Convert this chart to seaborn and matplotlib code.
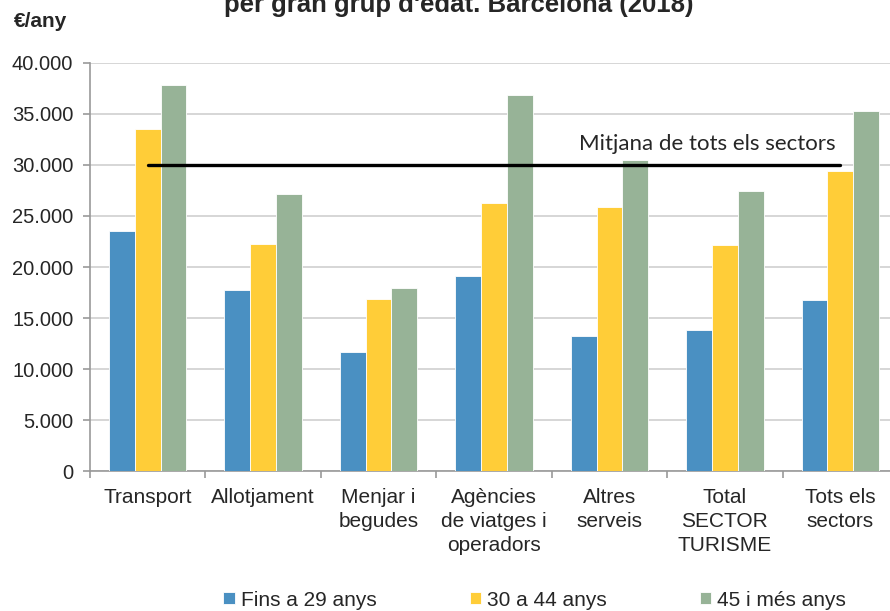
#importing libraries
import pandas as pd
import seaborn as sns
import matplotlib.pyplot as plt
from matplotlib.ticker import FuncFormatter, FixedLocator

#data
sectors = ['Transport', 'Allotjament', 'Menjar i\nbegudes', 'Agències\nde viatges i\noperadors',
           'Altres\nserveis', 'Total\nSECTOR\nTURISME', 'Tots els\nsectors']
groups = ['Fins a 29 anys', '30 a 44 anys', '45 i més anys']
fins29 = [23500, 17700, 11700, 19150, 13200, 13850, 16800]
de30a44 = [33500, 22250, 16900, 26250, 25900, 22150, 29400]
mes45 = [37800, 27200, 17900, 36900, 30500, 27400, 35300]
mitjana = 30000
colors = ['#4a90c2', '#ffcd38', '#97b397']

#long table for seaborn
rows = []
for g, vals in zip(groups, [fins29, de30a44, mes45]):
    for s, v in zip(sectors, vals):
        rows.append({'sector': s, 'grup': g, 'valor': v})
df = pd.DataFrame(rows)

sns.set_style('white')
plt.rcParams['font.family'] = ['Liberation Sans', 'DejaVu Sans']

fig = plt.figure(figsize=(8.9, 6.11), dpi=100)
ax = fig.add_axes([90 / 890, 0.229, 808 / 890, 0.668])

sns.barplot(data=df, x='sector', y='valor', hue='grup', order=sectors, hue_order=groups,
            palette=colors, width=0.67, gap=0, edgecolor='white', linewidth=0.6,
            saturation=1, ax=ax, zorder=3, legend=True)

#mean line across all sectors
ax.plot([0, len(sectors) - 1], [mitjana, mitjana], color='black', lw=2.4, zorder=4,
        solid_capstyle='round')
ax.text(5.96, mitjana + 1050, 'Mitjana de tots els sectors', ha='right', va='bottom',
        fontsize=16, family=['Lato', 'DejaVu Sans'], zorder=5)

#axes styling
ax.set_ylim(0, 40000)
ax.set_xlim(-0.5, len(sectors) - 0.5)
ax.set_yticks(range(0, 40001, 5000))
ax.yaxis.set_major_formatter(FuncFormatter(lambda v, p: f'{int(v):,}'.replace(',', '.')))
ax.yaxis.grid(True, color='#d0d0d0', lw=1.2, zorder=0)
ax.set_xlabel('')
ax.set_ylabel('')
ax.tick_params(axis='y', labelsize=14.5, length=5, width=1.2, color='#999999', pad=7, left=True)
ax.tick_params(axis='x', which='major', labelsize=15, length=0, pad=12)
ax.xaxis.set_minor_locator(FixedLocator([i + 0.5 for i in range(-1, len(sectors))]))
ax.tick_params(axis='x', which='minor', length=5, color='#999999', width=1.2, bottom=True)
for lab in ax.get_xticklabels():
    lab.set_linespacing(1.35)
for side in ['top', 'right']:
    ax.spines[side].set_visible(False)
for side in ['left', 'bottom']:
    ax.spines[side].set_color('#999999')
    ax.spines[side].set_linewidth(1.2)

#legend at the bottom
handles, labels = ax.get_legend_handles_labels()
ax.get_legend().remove()
fig.legend(handles, labels, loc='center', bbox_to_anchor=(0.601, 0.018), ncol=3, frameon=False,
           fontsize=15, handlelength=0.55, handleheight=0.55, handletextpad=0.3,
           columnspacing=4.45, borderaxespad=0)

#title and unit label
fig.text(0.515, 1 - 12 / 611, "per gran grup d'edat. Barcelona (2018)", ha='center',
         va='baseline', fontsize=18.5, fontweight='bold')
fig.text(0.016, 1 - 27 / 611, '€/any', ha='left', va='baseline', fontsize=15, fontweight='bold')

fig.savefig('out.png', dpi=100)
